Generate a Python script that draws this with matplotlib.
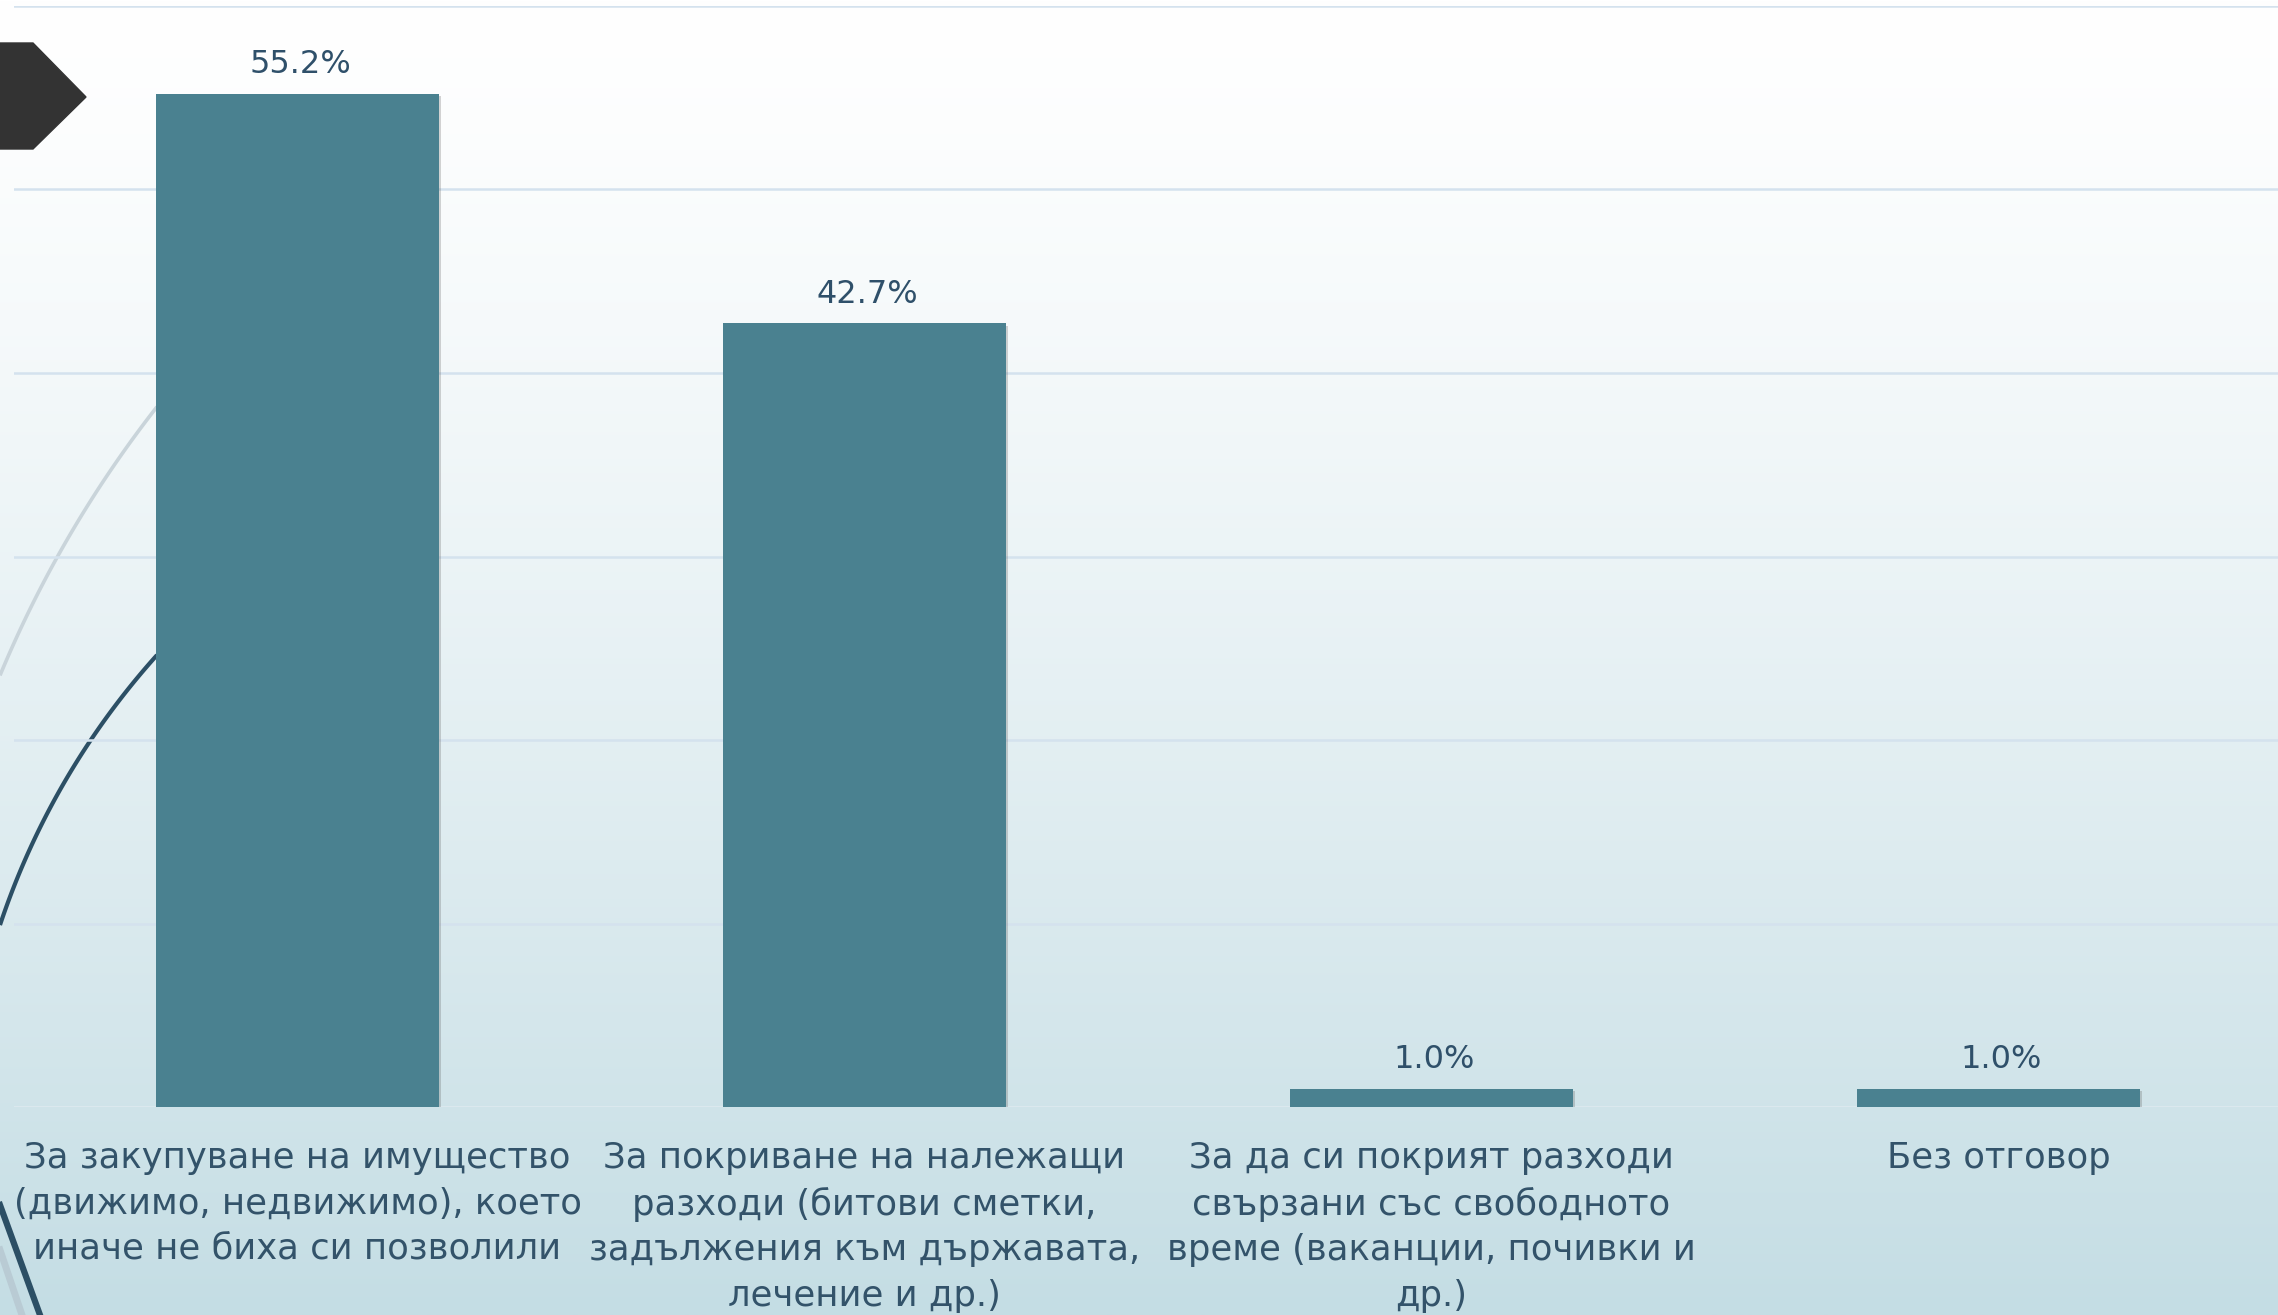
import numpy as np
import matplotlib
matplotlib.use("Agg")
import matplotlib.pyplot as plt
from matplotlib.patches import Polygon
import matplotlib.patheffects as pe

# ---- data ----
categories = [
    "За закупуване на имущество\n(движимо, недвижимо), което\nиначе не биха си позволили",
    "За покриване на належащи\nразходи (битови сметки,\nзадължения към държавата,\nлечение и др.)",
    "За да си покрият разходи\nсвързани със свободното\nвреме (ваканции, почивки и\nдр.)",
    "Без отговор",
]
values = [55.2, 42.7, 1.0, 1.0]
value_labels = ["55.2%", "42.7%", "1.0%", "1.0%"]
yticks = [0, 10, 20, 30, 40, 50, 60]

W, H = 2278, 1315
DPI = 100
fig = plt.figure(figsize=(W / DPI, H / DPI), dpi=DPI)

# ---- background gradient + decorations ----
bg = fig.add_axes([0, 0, 1, 1], zorder=0)
bg.set_xlim(0, W)
bg.set_ylim(H, 0)
bg.axis("off")
top = np.array([255, 255, 255]) / 255
bot = np.array([196, 221, 228]) / 255
t = np.linspace(0, 1, 512)[:, None]
t = t ** 1.3
grad = top[None, :] * (1 - t) + bot[None, :] * t
grad = np.repeat(grad[:, None, :], 2, axis=1)
bg.imshow(grad, extent=[0, W, H, 0], aspect="auto", interpolation="bilinear")

# light arc
cx, cy, r = 1064, 1117, 1152
th = np.linspace(np.arccos((0 - cx) / r), np.arccos((157 - cx) / r), 100)
bg.plot(cx + r * np.cos(th), cy - r * np.sin(th), color="#c9d4da", lw=2.6,
        solid_capstyle="butt")
# dark arc
cx, cy, r = 725, 1166, 764
th = np.linspace(np.arccos((0 - cx) / r), np.arccos((157 - cx) / r), 100)
bg.plot(cx + r * np.cos(th), cy - r * np.sin(th), color="#2c4f65", lw=3.0,
        solid_capstyle="butt")
# bottom-left strokes
bg.plot([0, 22], [1250, 1315], color="#b9cbd4", lw=5)
bg.plot([0, 40], [1205, 1315], color="#2c4f65", lw=4.5)

# pentagon marker
bg.add_patch(Polygon([(0, 43), (33, 43), (86, 97), (33, 149), (0, 149)],
                     closed=True, color="#333333", zorder=5))

# ---- main chart ----
left_px, right_px = 14, 2282
base_px, top_px = 1107, 6
ax = fig.add_axes([left_px / W, (H - base_px) / H,
                   (right_px - left_px) / W, (base_px - top_px) / H], zorder=1)
ax.patch.set_alpha(0)
x = np.arange(len(categories))
bars = ax.bar(x, values, width=0.5, color="#4a8190", zorder=3)
for b in bars:
    b.set_path_effects([pe.SimplePatchShadow(offset=(1.5, -1.5), alpha=0.25,
                                             shadow_rgbFace="#555555"),
                        pe.Normal()])
ax.set_xlim(-0.5, 3.5)
ax.set_ylim(0, 60)
ax.set_yticks(yticks)
ax.yaxis.grid(True, color="#d4e2ee", lw=1.8, zorder=0)
ax.set_axisbelow(True)
for s in ax.spines.values():
    s.set_visible(False)
ax.tick_params(axis="y", left=False, labelleft=False)
ax.tick_params(axis="x", bottom=False, pad=21)
ax.set_xticks(x)
ax.set_xticklabels(categories, fontsize=25.5, color="#33536a",
                   linespacing=1.42, va="top")
ax.axhline(0, color="#dde9ef", lw=2.0, zorder=2)

text_color = "#2f506a"
for xi, v, lab in zip(x, values, value_labels):
    ax.annotate(lab, (xi, v), xytext=(2, 15), textcoords="offset points",
                ha="center", va="baseline", fontsize=23, color=text_color)

fig.savefig("out.png", dpi=DPI)
